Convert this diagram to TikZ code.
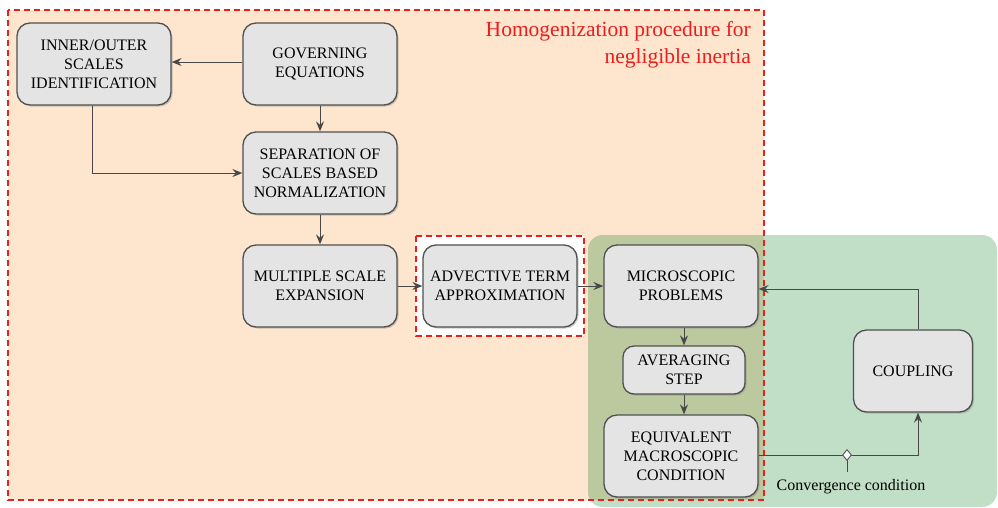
\documentclass[tikz,border=0pt]{standalone}
\usepackage{fontspec}
\setmainfont{Liberation Serif}
\usetikzlibrary{arrows.meta,shadows,shapes.geometric}
\definecolor{peach}{RGB}{253,230,205}
\definecolor{mint}{RGB}{193,223,198}
\definecolor{olive}{RGB}{188,200,158}
\definecolor{boxfill}{RGB}{228,228,228}
\definecolor{boxline}{RGB}{80,80,80}
\definecolor{dred}{RGB}{235,30,30}
\tikzset{
  stepbox/.style={draw=boxline, line width=1.3pt, fill=boxfill, rounded corners=13pt,
    align=center, font=\fontsize{16}{19}\selectfont, inner sep=2pt,
    drop shadow={shadow xshift=1.5pt, shadow yshift=-1.5pt, opacity=0.4}},
  conn/.style={draw=boxline!90!black, line width=1pt, -{Stealth[length=10pt,width=8pt,inset=3.5pt]}},
  plainline/.style={draw=boxline!90!black, line width=1pt},
  regionbox/.style={draw=dred, line width=1.7pt, dash pattern=on 6pt off 4pt},
}
\begin{document}
\begin{tikzpicture}[x=1pt,y=-1pt]
\useasboundingbox (0,0) rectangle (998,507);
% orange region
\fill[peach] (8,10) rectangle (764,500);
% green region
\fill[mint, rounded corners=15pt] (588,235) rectangle (997,507);
\begin{scope}
  \clip[rounded corners=15pt] (588,235) rectangle (997,507);
  \fill[olive] (588,235) rectangle (764,500);
\end{scope}
% small white dashed box
\fill[white] (416,236) rectangle (584,336);
\draw[regionbox] (416,236) rectangle (584,336);
\draw[regionbox] (8,10) rectangle (764,500);
\node[anchor=north east, align=right, text=dred, font=\fontsize{21.5}{27}\selectfont, inner sep=0pt] (title) at (751,21) {Homogenization procedure for\\negligible inertia};
% nodes
\node[stepbox, minimum width=154pt, minimum height=82pt] (inner) at (94,64) {INNER/OUTER\\SCALES\\IDENTIFICATION};
\node[stepbox, minimum width=154pt, minimum height=82pt] (gov) at (320,64) {GOVERNING\\EQUATIONS};
\node[stepbox, minimum width=154pt, minimum height=82pt] (sep) at (320,173) {SEPARATION OF\\SCALES BASED\\NORMALIZATION};
\node[stepbox, minimum width=154pt, minimum height=82pt] (mult) at (320,286) {MULTIPLE SCALE\\EXPANSION};
\node[stepbox, minimum width=154pt, minimum height=82pt] (adv) at (500,286) {ADVECTIVE TERM\\APPROXIMATION};
\node[stepbox, minimum width=154pt, minimum height=82pt] (micro) at (681,286) {MICROSCOPIC\\PROBLEMS};
\node[stepbox, minimum width=122pt, minimum height=48pt, rounded corners=11pt] (avg) at (684,370) {AVERAGING\\STEP};
\node[stepbox, minimum width=154pt, minimum height=82pt] (equiv) at (681,456) {EQUIVALENT\\MACROSCOPIC\\CONDITION};
\node[stepbox, minimum width=119pt, minimum height=82pt] (coup) at (913,371) {COUPLING};
% connectors
\draw[conn] (gov.west |- 0,62) -- (inner.east |- 0,62);
\draw[conn] (inner.south -| 92,0) |- (sep.west);
\draw[conn] (gov) -- (sep);
\draw[conn] (sep) -- (mult);
\draw[conn] (mult) -- (adv);
\draw[conn] (adv) -- (micro);
\draw[conn] (micro.south -| avg) -- (avg);
\draw[conn] (avg) -- (equiv.north -| avg);
\coordinate (cc) at (847,455);
\draw[conn] (equiv.east |- 0,455) -| (coup.south -| 918,0);
\draw[conn] (coup.north -| 918,0) |- (micro.east |- 0,289);
\draw[plainline] (cc) -- (847,472);
\node[diamond, draw=boxline, fill=white, line width=0.9pt, inner sep=0pt, minimum width=9pt, minimum height=11pt] (dia) at (cc) {};
\node[font=\fontsize{16}{18}\selectfont, inner sep=1pt] (conv) at (851,487) {Convergence condition};
\end{tikzpicture}
\end{document}
